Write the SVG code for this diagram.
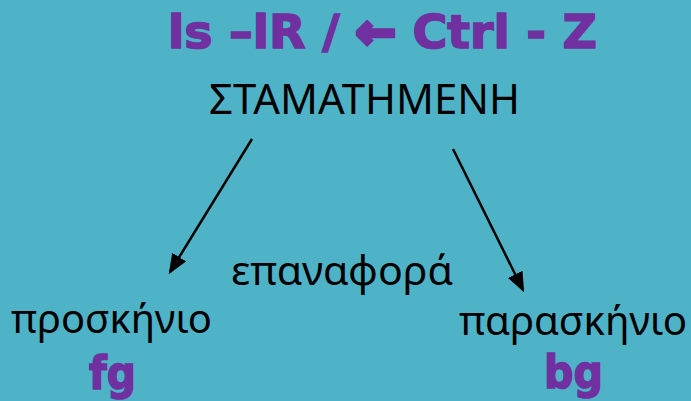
<svg xmlns="http://www.w3.org/2000/svg" width="691" height="401" viewBox="0 0 691 401">
<style>
.t{font-family:"Noto Sans","Open Sans","DejaVu Sans",sans-serif;fill:#000}
.p{font-family:"DejaVu Sans","Liberation Sans",sans-serif;font-weight:bold;fill:#7030A0;stroke:#7030A0;stroke-width:1.6}
.c{stroke:#000;stroke-width:2.5;fill:none;marker-end:url(#ah)}
</style>
<defs>
<marker id="ah" markerWidth="8" markerHeight="6.5" refX="7" refY="3.25" orient="auto" markerUnits="strokeWidth">
<path d="M0,0 L8,3.25 L0,6.5 z" fill="#000"/>
</marker>
</defs>
<rect width="691" height="401" fill="#4FB3C8"/>
<g id="title"><text class="p" x="168" y="48" font-size="47" textLength="429" lengthAdjust="spacingAndGlyphs">ls –lR / <tspan stroke-width="4.5">←</tspan> Ctrl - Z</text></g>
<g id="stopped"><text class="t" x="209" y="114" font-size="42" textLength="311" lengthAdjust="spacingAndGlyphs">ΣΤΑΜΑΤΗΜΕΝΗ</text></g>
<g id="fg"><text class="t" x="11" y="333" font-size="40" textLength="201" lengthAdjust="spacingAndGlyphs">προσκήνιο</text>
<text class="p" x="89" y="389" font-size="46" textLength="47" lengthAdjust="spacingAndGlyphs">fg</text></g>
<g id="bg"><text class="t" x="459" y="335" font-size="40" textLength="228" lengthAdjust="spacingAndGlyphs">παρασκήνιο</text>
<text class="p" x="544" y="388" font-size="46" textLength="59" lengthAdjust="spacingAndGlyphs">bg</text></g>
<g id="restore"><text class="t" x="231" y="285" font-size="40" textLength="222" lengthAdjust="spacingAndGlyphs">επαναφορά</text></g>
<g id="connectors">
<line class="c" x1="252" y1="139" x2="170" y2="272"/>
<line class="c" x1="453" y1="149" x2="523" y2="290"/>
</g>
</svg>
